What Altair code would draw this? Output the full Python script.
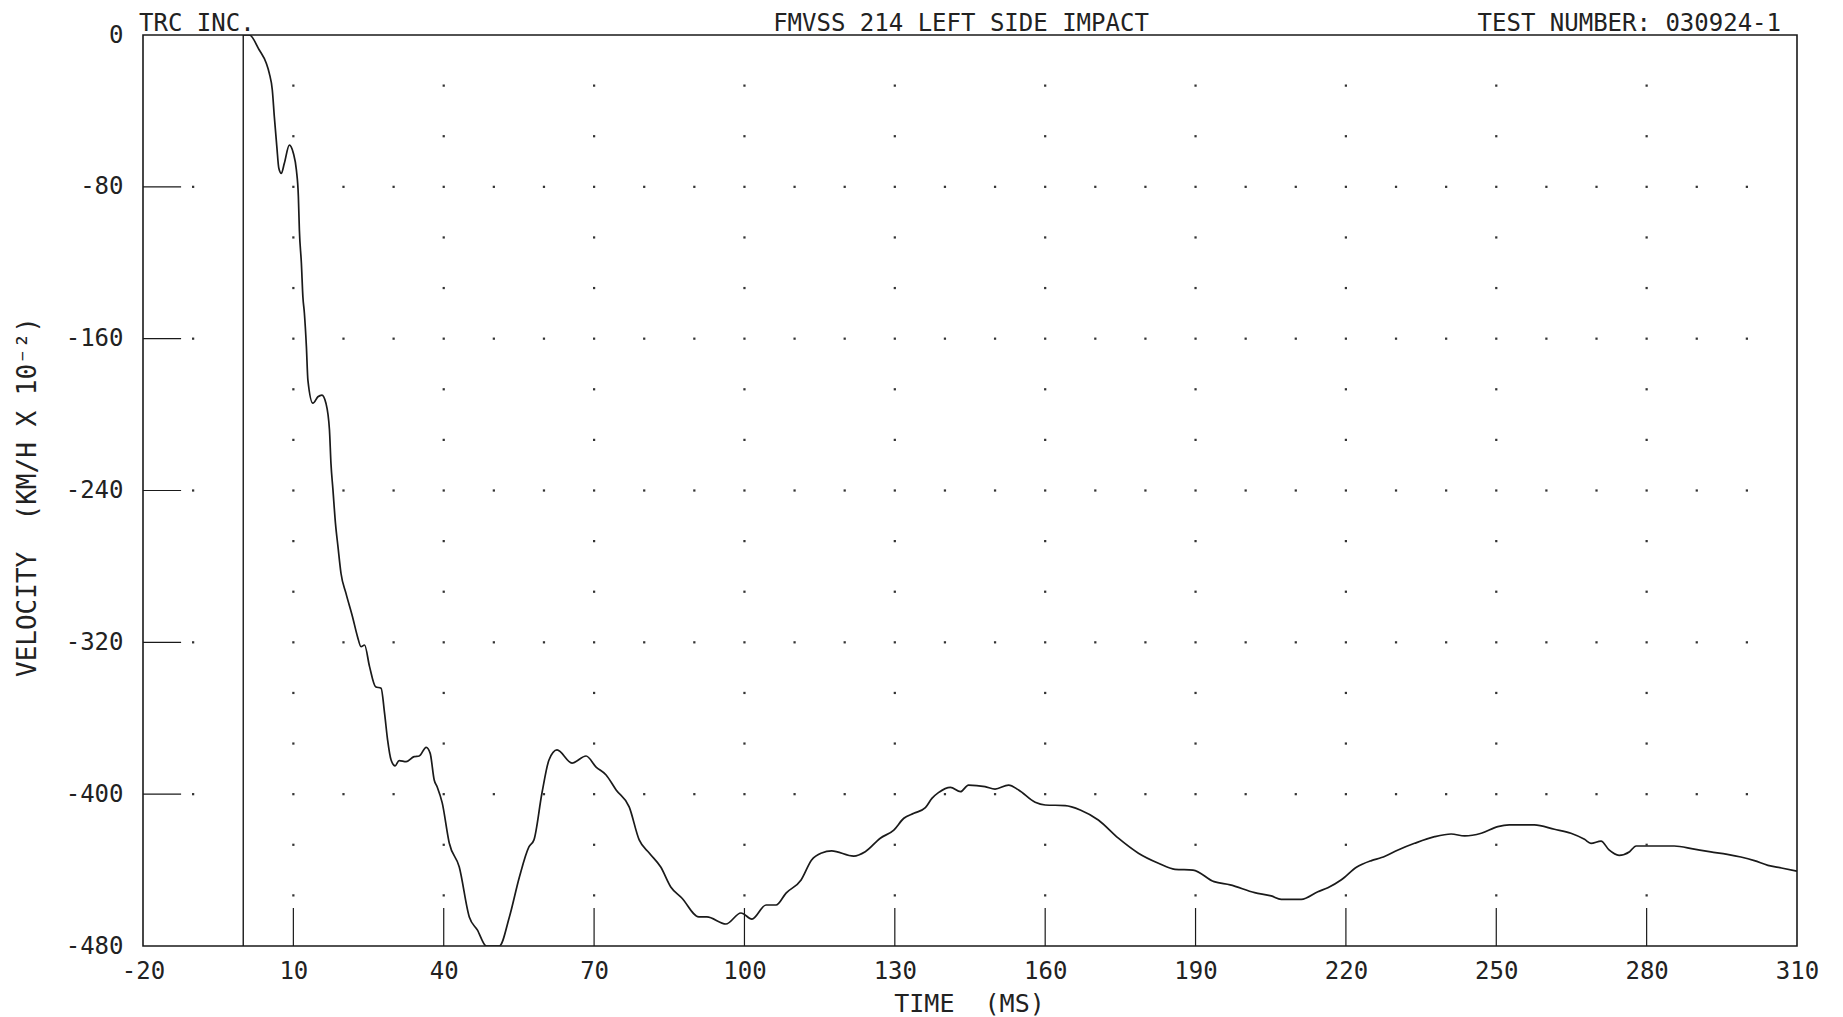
import altair as alt
import pandas as pd

# ---- curve data (time in ms, velocity in km/h x 10^-2) ----
time_ms = [0, 1.2, 3.2, 4.6, 5.2, 5.8, 6.2, 6.7, 7.1, 7.6, 8.2, 9.2, 10.0, 10.6, 11.0, 11.2, 11.6, 11.9,
           12.2, 12.6, 12.9, 13.9, 14.9, 15.7, 16.5, 17.2, 17.5, 17.9, 18.4, 18.9, 19.5, 20.5, 21.8, 22.8,
           23.5, 24.2, 25.2, 26.4, 27.5, 28.2, 28.8, 29.5, 30.3, 31.1, 32.5, 34.1, 35.1, 36.5, 37.3, 38.1,
           38.7, 39.7, 41.1, 43.1, 45.1, 46.7, 48.5, 51.1, 53.1, 55.1, 57.0, 58.0, 59.6, 61.0, 62.6, 65.6,
           68.4, 70.4, 72.4, 74.4, 77.0, 79.0, 81.0, 83.3, 85.3, 87.5, 90.9, 92.5, 96.3, 99.3, 101.5, 104.3,
           106.3, 108.3, 111.3, 113.4, 115.4, 117.4, 121.8, 124.1, 127.1, 129.8, 131.8, 133.8, 136.1, 137.4,
           138.7, 141.1, 143.1, 144.7, 148.0, 150.0, 152.7, 154.7, 158.0, 160.0, 164.0, 167.0, 170.6, 174.6,
           178.6, 182.6, 185.9, 189.5, 193.7, 196.9, 201.8, 205.1, 207.1, 211.1, 214.4, 216.4, 219.1, 222.1,
           225.1, 227.1, 230.4, 233.7, 237.7, 241.0, 243.7, 247.0, 250.3, 252.6, 257.6, 261.6, 264.9, 267.6,
           268.9, 270.9, 272.5, 274.5, 276.6, 277.9, 280.2, 285.5, 289.5, 292.8, 296.1, 298.8, 301.5, 304.2,
           306.9, 310.0]
velocity = [0, 0, -7.9, -14.9, -20.2, -29.0, -43.0, -58.8, -70.2, -72.9, -67.6, -58.0, -62.3, -71.1, -85.2,
            -102.7, -120.3, -137.9, -146.6, -164.2, -181.8, -194.0, -190.6, -189.7, -194.0, -208.0, -225.7,
            -239.7, -257.3, -269.6, -283.6, -294.2, -306.5, -317.0, -322.3, -321.4, -332.8, -343.4, -344.2,
            -357.4, -371.4, -382.0, -385.1, -382.3, -382.9, -380.2, -379.9, -375.3, -378.5, -392.5, -396.2,
            -404.6, -425.7, -438.4, -464.7, -471.5, -480.0, -480.0, -464.7, -443.6, -427.8, -424.1, -399.4,
            -382.0, -376.7, -383.6, -379.9, -385.7, -389.9, -397.8, -406.7, -424.1, -431.0, -438.4, -448.9,
            -454.7, -464.7, -464.7, -468.4, -462.6, -465.8, -458.4, -458.4, -452.1, -445.2, -434.7, -431.0,
            -429.9, -432.6, -430.3, -423.2, -418.9, -412.7, -410.1, -407.1, -402.2, -399.2, -396.4, -398.7,
            -395.2, -396.0, -397.3, -395.2, -397.8, -404.3, -405.7, -406.0, -408.3, -413.6, -423.2, -431.1,
            -436.4, -439.6, -440.0, -446.1, -447.8, -451.9, -453.6, -455.4, -455.4, -451.4, -449.3, -445.1,
            -438.5, -435.0, -433.4, -429.4, -425.9, -422.4, -421.0, -422.0, -420.6, -417.1, -416.2, -416.2,
            -418.5, -420.6, -423.8, -425.9, -424.7, -429.4, -432.2, -430.3, -427.3, -427.3, -427.3, -429.0,
            -430.4, -431.7, -433.1, -435.0, -437.5, -438.9, -440.6]

# ---- axes, grid and labels ----
x_ticks = [-20, 10, 40, 70, 100, 130, 160, 190, 220, 250, 280, 310]
y_ticks = [0, -80, -160, -240, -320, -400, -480]
major_rows = [-80, -160, -240, -320, -400]
minor_rows = [-26.67, -53.33, -106.67, -133.33, -186.67, -213.33, -266.67, -293.33,
              -346.67, -373.33, -426.67, -453.33]
major_cols = [-10] + list(range(10, 301, 10))
minor_cols = [10, 40, 70, 100, 130, 160, 190, 220, 250, 280]
header_text = ["TRC INC.", "FMVSS 214 LEFT SIDE IMPACT", "TEST NUMBER: 030924-1"]
header_x = [-20, 145, 310]
header_align = ["left", "center", "right"]
header_dx = [-4, -9, -16]
NB = "\u00a0"
x_title = "TIME" + NB + NB + "(MS)"
y_title = "VELOCITY" + NB + NB + "(KM/H X 10\u207b\u00b2)"

FONT = "DejaVu Sans Mono"
INK = "#1a1a1a"
W, H = 1654, 911

xs = alt.Scale(domain=[-20, 310], nice=False, zero=False)
ys = alt.Scale(domain=[-480, 0], nice=False, zero=False)

X_AX = alt.Axis(
    values=x_ticks, title=x_title, labelExpr="'' + datum.value",
    ticks=False, tickSize=0, domain=False, grid=False,
    labelFlush=False, labelOverlap=False, labelPadding=13,
    titleY=57, titleX=826, titleBaseline="middle", titleFontSize=25)
Y_AX = alt.Axis(
    values=y_ticks, title=y_title, labelExpr="'' + datum.value",
    ticks=False, tickSize=0, domain=False, grid=False,
    labelOverlap=False, labelPadding=20,
    titleX=-116, titleY=H / 2 + 6, titleAngle=270, titleFontSize=26,
    titleAlign="center", titleBaseline="middle")


def X(field):
    return alt.X(field, type="quantitative", scale=xs, axis=X_AX, title=x_title)


def Y(field):
    return alt.Y(field, type="quantitative", scale=ys, axis=Y_AX, title=y_title)


curve_df = pd.DataFrame({"t": time_ms, "v": velocity})
curve = alt.Chart(curve_df).mark_line(
    color=INK, strokeWidth=1.7, interpolate="monotone", clip=True
).encode(x=X("t"), y=Y("v"))

# vertical line at time zero
zero_line = alt.Chart(pd.DataFrame({"t": [0]})).mark_rule(
    color=INK, strokeWidth=1.4
).encode(x=X("t"))

# inner tick marks on left side
left_ticks_df = pd.DataFrame({"v": major_rows, "t": [-20] * len(major_rows),
                              "t2": [-12.4] * len(major_rows)})
left_ticks = alt.Chart(left_ticks_df).mark_rule(color=INK, strokeWidth=1.2).encode(
    x=X("t"), x2="t2:Q", y=Y("v"))

# inner tick marks on bottom
bottom_ticks_df = pd.DataFrame({"t": minor_cols, "v": [-480] * len(minor_cols),
                                "v2": [-460] * len(minor_cols)})
bottom_ticks = alt.Chart(bottom_ticks_df).mark_rule(color=INK, strokeWidth=1.2).encode(
    x=X("t"), y=Y("v"), y2="v2:Q")

# dotted grid
dots_x, dots_y = [], []
for r in major_rows:
    for c in major_cols:
        dots_x.append(c); dots_y.append(r)
for r in minor_rows:
    for c in minor_cols:
        dots_x.append(c); dots_y.append(r)
dots = alt.Chart(pd.DataFrame({"t": dots_x, "v": dots_y})).mark_square(
    size=5, color="#333333", opacity=1
).encode(x=X("t"), y=Y("v"))

# header texts
headers = []
for txt, hx, al, dx in zip(header_text, header_x, header_align, header_dx):
    headers.append(
        alt.Chart(pd.DataFrame({"t": [hx], "v": [0], "txt": [txt]})).mark_text(
            align=al, baseline="alphabetic", dx=dx, dy=-4, font=FONT, fontSize=24,
            color="#222222"
        ).encode(x=X("t"), y=Y("v"), text="txt:N")
    )

chart = alt.layer(curve, dots, left_ticks, bottom_ticks, zero_line, *headers).properties(
    width=W, height=H,
    padding={"left": 135, "top": 27, "right": 38, "bottom": 71},
    autosize=alt.AutoSizeParams(type="none"),
    background="white",
).configure_view(
    stroke=INK, strokeWidth=1.6
).configure_axis(
    labelFont=FONT, titleFont=FONT, labelFontSize=24,
    labelColor="#222222", titleColor="#222222", titleFontWeight="normal",
)

chart.save("out.html", embed_options={"renderer": "svg", "actions": False})
